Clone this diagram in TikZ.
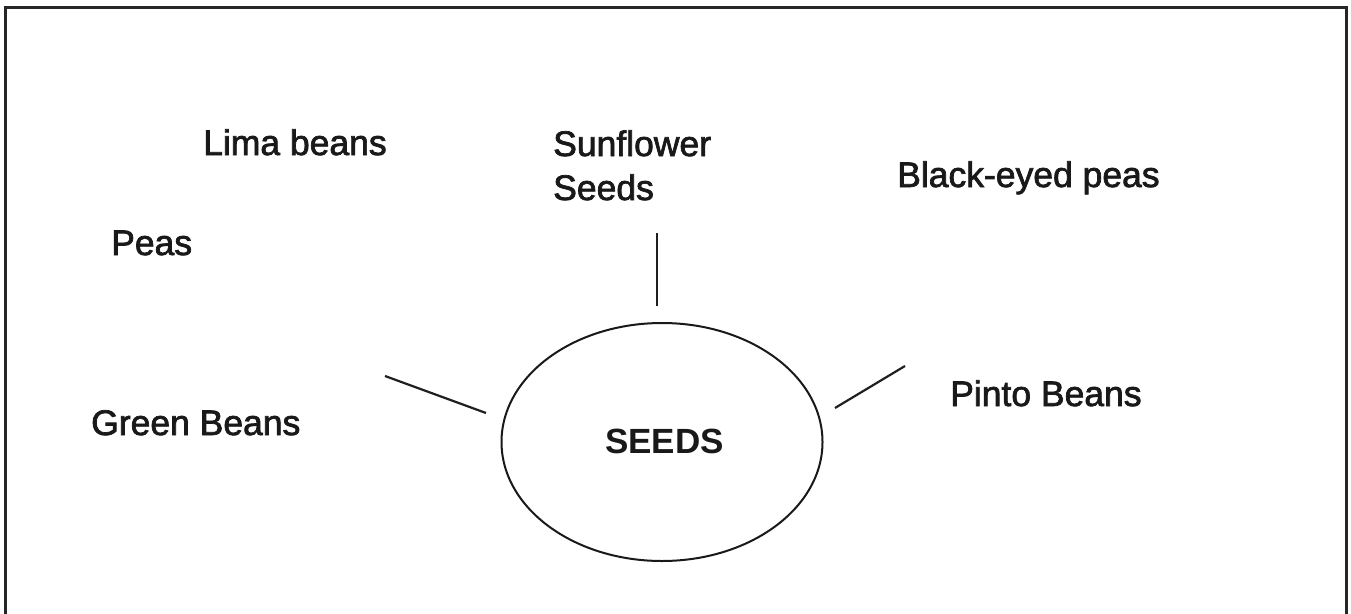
\documentclass[tikz,border=0pt]{standalone}
\usepackage{fontspec}
\setmainfont{Liberation Sans}
\newfontfamily\mapfont[FakeBold=2]{Liberation Sans}
\newfontfamily\hubfont{Liberation Sans Bold}
\usetikzlibrary{shapes.geometric}
\begin{document}
\begin{tikzpicture}[x=1pt,y=-1pt,
  label/.style={anchor=base west,inner sep=0pt,text=black!90,font=\mapfont\fontsize{35.5}{44}\selectfont},
  spoke/.style={line width=2.2pt,draw=black!88},
  frame/.style={line width=3pt,draw=black!85}]
  \useasboundingbox (0,0) rectangle (1351,613);
  \fill[white] (0,0) rectangle (1351,613);
  % open frame running off the bottom edge
  \draw[frame] (5.5,620) -- (5.5,7.5) -- (1346.5,7.5) -- (1346.5,620);
  % central idea
  \node[ellipse,draw=black!90,line width=2pt,minimum width=321pt,minimum height=238pt,inner sep=0pt]
    (seeds) at (662,442) {};
  \node[label,font=\hubfont\fontsize{35}{40}\selectfont] (seedslbl) at (605,453) {SEEDS};
  % surrounding seed names
  \node[label] (lima) at (203,155) {Lima beans};
  \node[label] (sun) at (553,156) {Sunflower};
  \node[label] (sunb) at (553,200) {Seeds};
  \node[label] (black) at (897,187) {Black-eyed peas};
  \node[label] (peas) at (111,255) {Peas};
  \node[label] (green) at (91,435) {Green Beans};
  \node[label] (pinto) at (950,406) {Pinto Beans};
  % spokes out from the ellipse
  \coordinate (sunA) at (657,233);
  \coordinate (sunB) at (657,306);
  \coordinate (greenA) at (385,376);
  \coordinate (greenB) at (486,413);
  \coordinate (pintoA) at (835,408);
  \coordinate (pintoB) at (905,366);
  \draw[spoke] (sunA) -- (sunB);
  \draw[spoke] (greenA) -- (greenB);
  \draw[spoke] (pintoA) -- (pintoB);
\end{tikzpicture}
\end{document}
